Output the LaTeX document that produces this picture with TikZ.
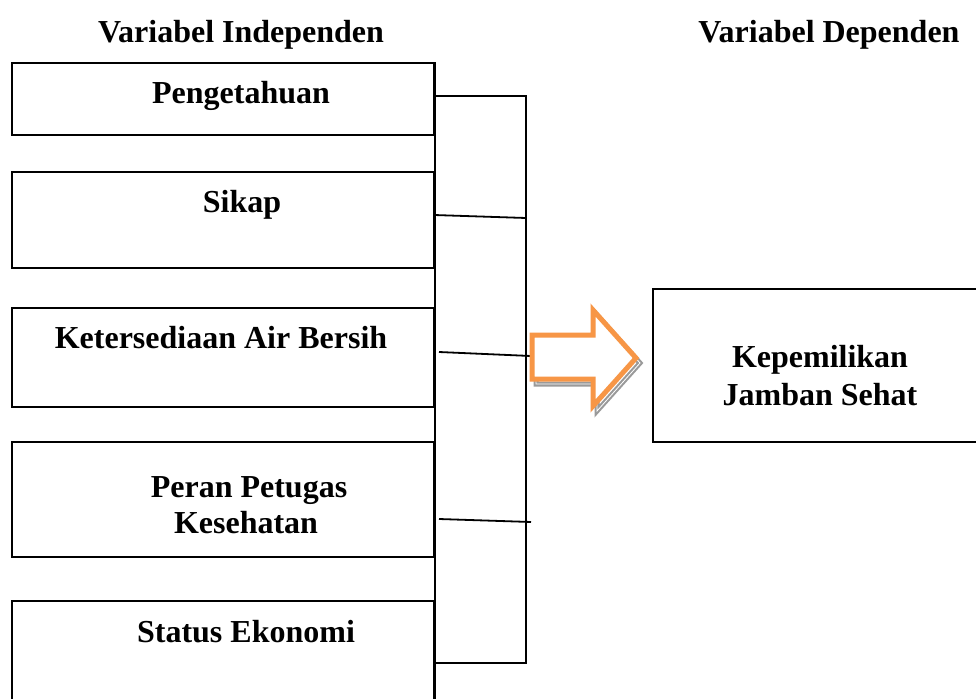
\documentclass[tikz,border=0pt]{standalone}
\usepackage{fontspec}
\setmainfont{Liberation Serif}
\definecolor{arroworange}{HTML}{F79646}
\definecolor{shadowgray}{HTML}{9A9A9A}
\begin{document}
\begin{tikzpicture}[x=1pt,y=-1pt,
  box/.style={draw,line width=1.8pt,inner sep=0pt},
  lbl/.style={font=\fontsize{32}{36}\bfseries\selectfont,anchor=base,inner sep=0pt},
  link/.style={line width=1.8pt}]
\clip (0,0) rectangle (976,698);
\fill[white] (0,0) rectangle (976,698);

% headings
\node[lbl] (hInd) at (241,43) {Variabel Independen};
\node[lbl] (hDep) at (829,43) {Variabel Dependen};

% independent variable boxes
\node[box,minimum width=422pt,minimum height=72pt]  (b1) at (223,99)    {};
\node[box,minimum width=422pt,minimum height=96pt]  (b2) at (223,220)   {};
\node[box,minimum width=422pt,minimum height=99pt]  (b3) at (223,357.5) {};
\node[box,minimum width=422pt,minimum height=115pt] (b4) at (223,499.5) {};
\node[box,minimum width=422pt,minimum height=109pt] (b5) at (223,655.5) {};

\node[lbl] (tPeng)  at (241,103) {Pengetahuan};
\node[lbl] (tSikap) at (242,212) {Sikap};
\node[lbl] (tAir)   at (221,348) {Ketersediaan Air Bersih};
\node[lbl] (tPer1)  at (249,497) {Peran Petugas};
\node[lbl] (tPer2)  at (246,533) {Kesehatan};
\node[lbl] (tStat)  at (246,642) {Status Ekonomi};

% dependent variable box
\node[box,minimum width=337pt,minimum height=153pt] (k) at (821.5,365.5) {};
\node[lbl] (tKep1) at (820,367) {Kepemilikan};
\node[lbl] (tKep2) at (820,405) {Jamban Sehat};

% common right edge of the left column
\draw[link] (b1.north east) -- (b5.south east);

% bracket collecting the variables
\coordinate (busTop) at (526,96);
\coordinate (busBot) at (526,663);
\draw[link] (busTop -| b1.east) -- (busTop) -- (busBot) -- (busBot -| b5.east);

\coordinate (l2a) at (434,215);
\coordinate (l2b) at (526,218);
\draw[link] (l2a) -- (l2b);

\coordinate (l3a) at (439,352);
\coordinate (l3b) at (531,356);
\draw[link] (l3a) -- (l3b);

\coordinate (l4a) at (439,519);
\coordinate (l4b) at (531,522);
\draw[link] (l4a) -- (l4b);

% block arrow with its shadow
\begin{scope}[shift={(4,5)}]
  \draw[shadowgray,line width=5pt,line join=miter]
    (532,335) -- (593,335) -- (593,310) -- (636,358) -- (593,406) -- (593,379) -- (532,379) -- cycle;
  \draw[white,line width=0.8pt]
    (532,335) -- (593,335) -- (593,310) -- (636,358) -- (593,406) -- (593,379) -- (532,379) -- cycle;
\end{scope}
\draw[arroworange,fill=white,line width=5pt,line join=miter]
  (532,335) -- (593,335) -- (593,310) -- (636,358) -- (593,406) -- (593,379) -- (532,379) -- cycle;
\end{tikzpicture}
\end{document}
